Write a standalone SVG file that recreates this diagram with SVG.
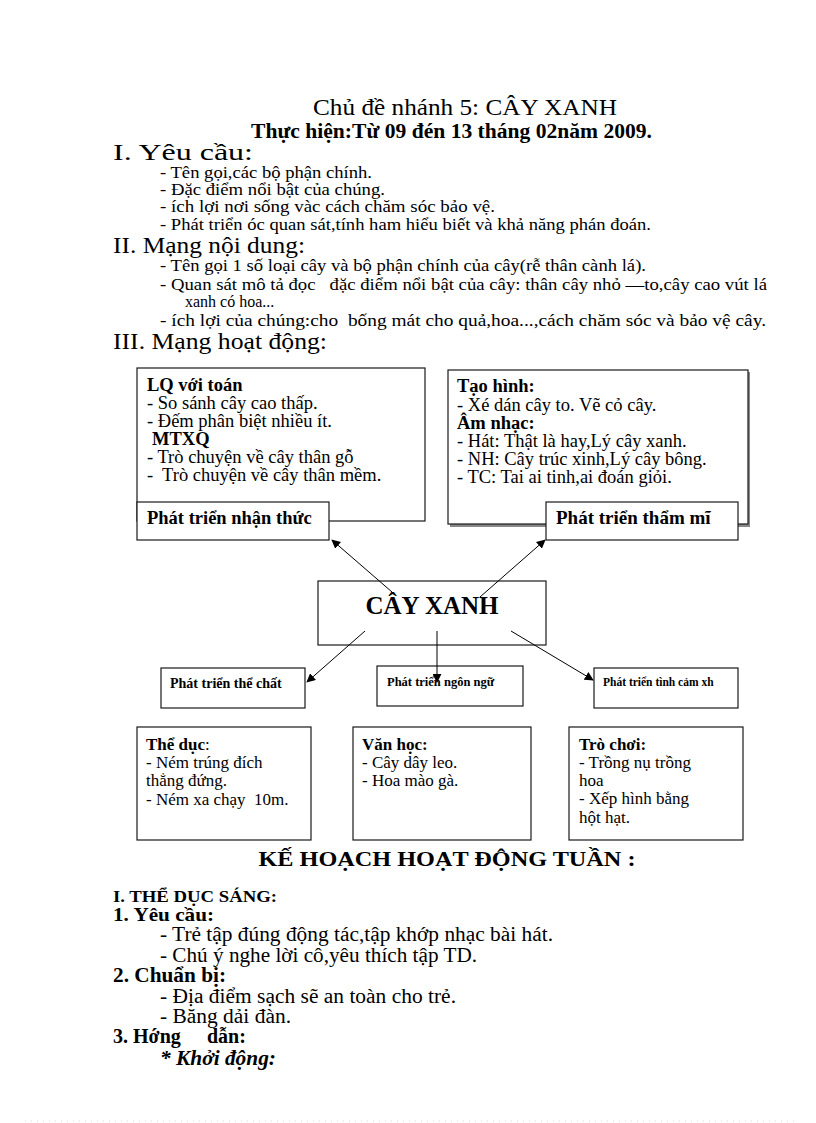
<svg xmlns="http://www.w3.org/2000/svg" width="816" height="1123" viewBox="0 0 816 1123">
<style>
text{font-family:"Liberation Serif","Times New Roman",serif;fill:#000}
.b{font-weight:bold}
.h{font-size:24px}
.li{font-size:17px}
.bx{font-size:18.5px}
.bb{font-size:17px}
.pl{font-size:20px}
.frame{fill:#fff;stroke:#1a1a1a;stroke-width:1.2}
.con{stroke:#000;stroke-width:1;fill:none;marker-end:url(#ah)}
</style>
<defs>
<marker id="ah" viewBox="0 0 10 10" refX="9" refY="5" markerWidth="9" markerHeight="9" markerUnits="userSpaceOnUse" orient="auto">
<path d="M0,0 L10,5 L0,10 z" fill="#000"/>
</marker>
</defs>
<rect width="816" height="1123" fill="#fff"/>

<g id="header">
<text x="313" y="115" font-size="23" textLength="304" lengthAdjust="spacingAndGlyphs">Chủ đề nhánh 5: CÂY XANH</text>
<text x="251" y="138" font-size="20" class="b" textLength="401" lengthAdjust="spacingAndGlyphs">Thực hiện:Từ 09 đén 13 tháng 02năm 2009.</text>
<text x="113" y="160" class="h" textLength="140" lengthAdjust="spacingAndGlyphs">I. Yêu cầu:</text>
<text x="160" y="178" class="li" textLength="212" lengthAdjust="spacingAndGlyphs">- Tên gọi,các  bộ phận chính.</text>
<text x="160" y="195" class="li" textLength="225" lengthAdjust="spacingAndGlyphs">- Đặc điểm nổi bật của chúng.</text>
<text x="160" y="212" class="li" textLength="335" lengthAdjust="spacingAndGlyphs">- ích lợi nơi sống vàc cách chăm sóc bảo vệ.</text>
<text x="160" y="230" class="li" textLength="491" lengthAdjust="spacingAndGlyphs">- Phát triển óc quan sát,tính ham hiểu biết và khả năng phán đoán.</text>
<text x="113" y="253" class="h" textLength="192" lengthAdjust="spacingAndGlyphs">II. Mạng nội dung:</text>
<text x="160" y="271" class="li" textLength="486" lengthAdjust="spacingAndGlyphs">- Tên gọi 1 số loại cây và bộ phận chính của cây(rễ thân cành lá).</text>
<text x="160" y="290" class="li" xml:space="preserve" textLength="607" lengthAdjust="spacingAndGlyphs">- Quan sát mô tả đọc   đặc điểm nổi bật của cây: thân cây nhỏ —to,cây cao vút lá</text>
<text x="185" y="307" font-size="16">xanh có hoa...</text>
<text x="160" y="326" class="li" xml:space="preserve" textLength="606" lengthAdjust="spacingAndGlyphs">- ích lợi của chúng:cho  bống mát cho quả,hoa...,cách chăm sóc và bảo vệ cây.</text>
<text x="113" y="349" class="h" textLength="214" lengthAdjust="spacingAndGlyphs">III. Mạng hoạt động:</text>
</g>

<g id="node-nhanthuc">
<rect class="frame" x="137" y="368" width="288" height="153"/>
<text x="147" y="391" class="bx b">LQ với toán</text>
<text x="147" y="409" class="bx">- So sánh cây cao thấp.</text>
<text x="147" y="427" class="bx">- Đếm phân biệt nhiều ít.</text>
<text x="152" y="445" class="bx b">MTXQ</text>
<text x="147" y="463" class="bx">- Trò chuyện về cây thân gỗ</text>
<text x="147" y="481" class="bx" xml:space="preserve">-  Trò chuyện về cây thân mềm.</text>
<rect class="frame" x="137" y="502" width="192" height="38"/>
<text x="147" y="524" class="bx b">Phát triển nhận thức</text>
</g>

<g id="node-thammi">
<rect x="450" y="372" width="300" height="155" fill="#888"/>
<rect class="frame" x="448" y="370" width="300" height="154"/>
<text x="457" y="392" class="bx b">Tạo hình:</text>
<text x="457" y="411" class="bx">- Xé dán cây to. Vẽ cỏ cây.</text>
<text x="457" y="429" class="bx b">Âm nhạc:</text>
<text x="457" y="447" class="bx">- Hát: Thật là hay,Lý cây xanh.</text>
<text x="457" y="465" class="bx">- NH: Cây trúc xinh,Lý cây bông.</text>
<text x="457" y="483" class="bx">- TC: Tai ai tinh,ai đoán giỏi.</text>
<rect class="frame" x="546" y="502" width="192" height="38"/>
<text x="556" y="524" font-size="19" class="b">Phát triển thẩm mĩ</text>
</g>

<g id="node-center">
<rect class="frame" x="318" y="581" width="228" height="64"/>
<text x="432" y="614" font-size="25" class="b" text-anchor="middle">CÂY XANH</text>
</g>

<g id="node-thechat">
<rect class="frame" x="161" y="668" width="144" height="40"/>
<text x="170" y="688" font-size="14" class="b">Phát triển thể chất</text>
</g>
<g id="node-ngonngu">
<rect class="frame" x="377" y="666" width="146" height="40"/>
<text x="387" y="686" font-size="12.5" class="b">Phát triển ngôn ngữ</text>
</g>
<g id="node-tinhcam">
<rect class="frame" x="594" y="668" width="144" height="40"/>
<text x="603" y="686" font-size="11.5" class="b">Phát triển tình cảm xh</text>
</g>

<g id="node-theduc">
<rect class="frame" x="137" y="727" width="174" height="113"/>
<text x="146" y="750" class="bb"><tspan class="b">Thể dục</tspan>:</text>
<text x="146" y="768" class="bb">- Ném trúng đích</text>
<text x="146" y="786" class="bb">thẳng đứng.</text>
<text x="146" y="805" class="bb" xml:space="preserve">- Ném xa chạy  10m.</text>
</g>
<g id="node-vanhoc">
<rect class="frame" x="353" y="727" width="178" height="113"/>
<text x="362" y="750" class="bb b">Văn học:</text>
<text x="362" y="768" class="bb">- Cây dây leo.</text>
<text x="362" y="786" class="bb">- Hoa mào gà.</text>
</g>
<g id="node-trochoi">
<rect class="frame" x="569" y="727" width="174" height="113"/>
<text x="579" y="750" class="bb b">Trò chơi:</text>
<text x="579" y="768" class="bb">- Trồng nụ trồng</text>
<text x="579" y="786" class="bb">hoa</text>
<text x="579" y="804" class="bb">- Xếp hình bằng</text>
<text x="579" y="823" class="bb">hột hạt.</text>
</g>

<g id="connectors">
<line class="con" x1="392" y1="592" x2="332" y2="540"/>
<line class="con" x1="480" y1="597" x2="545" y2="540"/>
<line class="con" x1="365" y1="631" x2="307" y2="682"/>
<line class="con" x1="437" y1="631" x2="437" y2="682"/>
<line class="con" x1="511" y1="631" x2="593" y2="680"/>
</g>

<g id="plan">
<text x="447" y="866" font-size="22" class="b" text-anchor="middle" textLength="377" lengthAdjust="spacingAndGlyphs">KẾ HOẠCH HOẠT ĐỘNG TUẦN :</text>
<text x="113" y="902" font-size="17" font-weight="600" textLength="164" lengthAdjust="spacingAndGlyphs">I. THỂ DỤC SÁNG:</text>
<text x="113" y="921" font-size="19" class="b" textLength="101" lengthAdjust="spacingAndGlyphs">1. Yêu cầu:</text>
<text x="160" y="941" class="pl" textLength="393" lengthAdjust="spacingAndGlyphs">- Trẻ tập đúng động tác,tập khớp nhạc bài hát.</text>
<text x="160" y="962" class="pl" textLength="317" lengthAdjust="spacingAndGlyphs">- Chú ý nghe lời cô,yêu thích tập TD.</text>
<text x="113" y="982" font-size="20" class="b" textLength="113" lengthAdjust="spacingAndGlyphs">2. Chuẩn bị:</text>
<text x="160" y="1003" class="pl" textLength="296" lengthAdjust="spacingAndGlyphs">- Địa điểm sạch sẽ an toàn cho trẻ.</text>
<text x="160" y="1023" class="pl" textLength="131" lengthAdjust="spacingAndGlyphs">- Băng dải đàn.</text>
<text x="113" y="1043" font-size="20" class="b">3. Hớng<tspan x="207">dẫn:</tspan></text>
<text x="160" y="1065" font-size="20" class="b" font-style="italic" textLength="116" lengthAdjust="spacingAndGlyphs">* Khởi động:</text>
</g>

<line x1="25" y1="1121" x2="795" y2="1121" stroke="#d8d8d8" stroke-width="1" stroke-dasharray="1,5"/>
</svg>
